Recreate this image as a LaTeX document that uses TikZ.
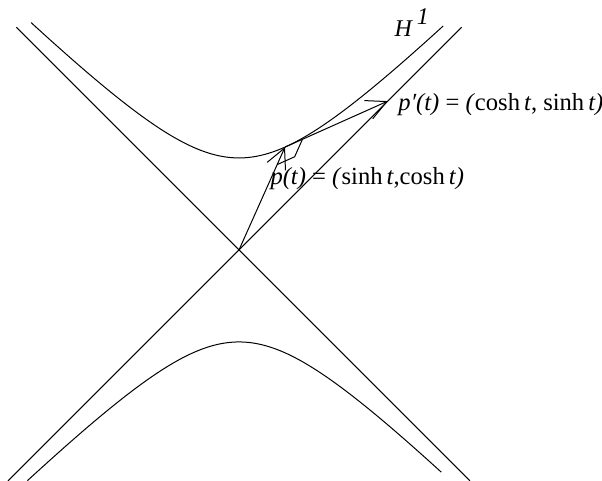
\documentclass[tikz,border=0pt]{standalone}
\usepackage{fontspec}
\setmainfont{Liberation Serif}
\usetikzlibrary{arrows.meta, calc}

\begin{document}
\begin{tikzpicture}[x=46pt, y=46pt, >={Straight Barb[length=10pt, width=10pt]}, line width=0.5pt]
    \useasboundingbox (-2.598,-2.511) rectangle (3.946,2.717);
    \coordinate (O) at (0,0);
    \coordinate (P) at (0.5,1.118);
    \coordinate (Q) at (1.618,1.618);
    \coordinate (ul) at (-2.42,2.42);
    \coordinate (ur) at (2.42,2.42);
    \coordinate (ll) at (-2.51,-2.51);
    \coordinate (lr) at (2.51,-2.51);

    % asymptotes
    \draw (ul) -- (lr);
    \draw (ll) -- (ur);

    % the two branches
    \draw plot[domain=-2.26:2.22, samples=100, smooth] (\x, {sqrt(1+\x*\x)});
    \draw plot[domain=-2.3:2.2, samples=100, smooth] (\x, {-sqrt(1+\x*\x)});

    \draw[->] (O) -- (P);
    \draw[->] (P) -- (Q);

    \coordinate (ra) at ($(P)!0.17!(Q)$);
    \coordinate (rc) at ($(P)!0.17!(O)$);
    \draw (ra) -- ($(ra)+(rc)-(P)$) -- (rc);

    \node[anchor=base west, inner sep=0pt] (hlab) at (1.685,2.32)
        {\fontsize{12}{14}\selectfont\textit{H}\hspace{2pt}\raisebox{5.8pt}{\textit{1}}};
    \node[anchor=base west, inner sep=0pt] (qlab) at (1.728,1.516)
        {\fontsize{12.3}{14}\selectfont\textit{p′(t)} = \textit{(}cosh\,\textit{t}, sinh\,\textit{t)}};
    \node[anchor=base west, inner sep=0pt] (plab) at (0.337,0.707)
        {\fontsize{12.3}{14}\selectfont\textit{p(t)} = \textit{(}sinh\,\textit{t},cosh\,\textit{t)}};
\end{tikzpicture}
\end{document}
